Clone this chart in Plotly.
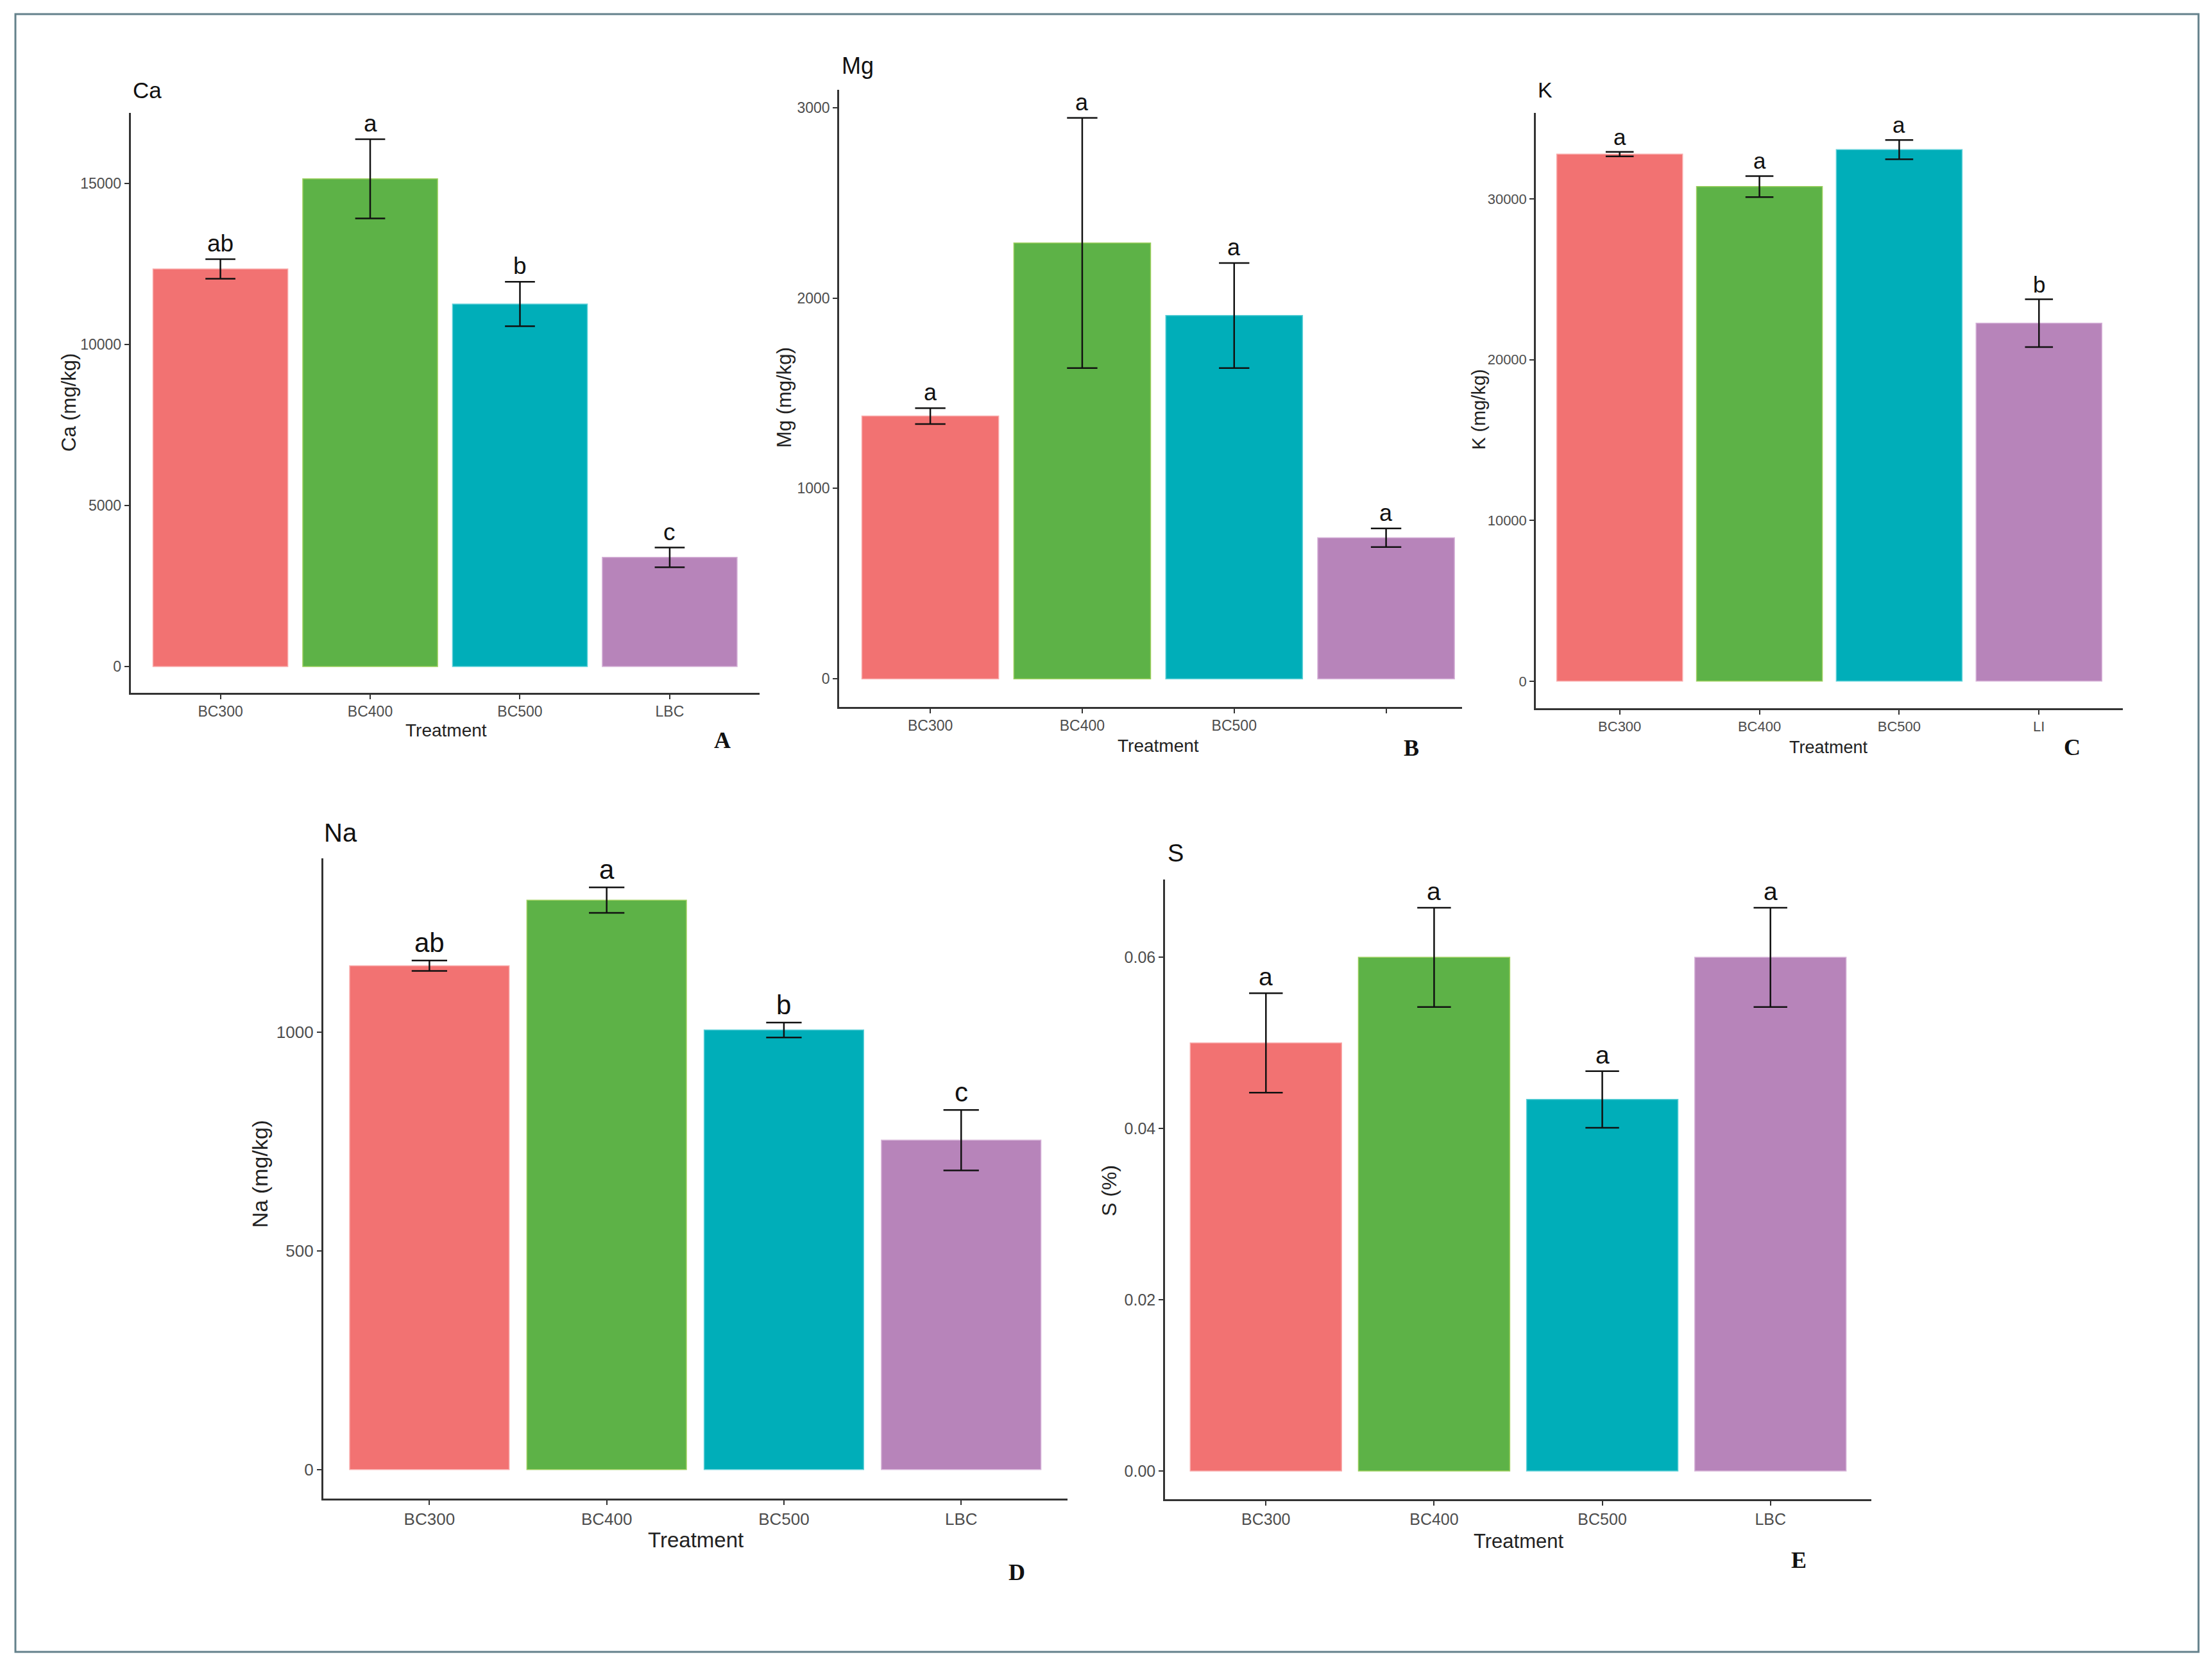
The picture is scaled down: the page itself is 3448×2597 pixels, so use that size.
import plotly.graph_objects as go

W, H = 3448, 2597

# ---------------- data ----------------
categories = ["BC300", "BC400", "BC500", "LBC"]

ca_mean = [12350, 15150, 11260, 3390]
ca_se = [305, 1230, 690, 305]
ca_letters = ["ab", "a", "b", "c"]
ca_ticks = ["BC300", "BC400", "BC500", "LBC"]

mg_mean = [1380, 2289, 1908, 741]
mg_se = [42, 657, 276, 49]
mg_letters = ["a", "a", "a", "a"]
mg_ticks = ["BC300", "BC400", "BC500", ""]

k_mean = [32790, 30770, 33070, 22270]
k_se = [140, 655, 600, 1485]
k_letters = ["a", "a", "a", "b"]
k_ticks = ["BC300", "BC400", "BC500", "LI"]

na_mean = [1152, 1302, 1005, 753]
na_se = [12, 29, 17, 69]
na_letters = ["ab", "a", "b", "c"]
na_ticks = ["BC300", "BC400", "BC500", "LBC"]

s_mean = [0.0500, 0.0600, 0.0434, 0.0600]
s_se = [0.0058, 0.0058, 0.0033, 0.0058]
s_letters = ["a", "a", "a", "a"]
s_ticks = ["BC300", "BC400", "BC500", "LBC"]

bar_colors = ["#F27272", "#5DB247", "#00AEB9", "#B784BA"]
edge_colors = ["#F9AAAA", "#9CCF5E", "#5ED0D8", "#D6B2D8"]

# ---------------- panel geometry (pixels) ----------------
panels = [
    dict(mean=ca_mean, se=ca_se, letters=ca_letters, ticks=ca_ticks, title="Ca",
         ytitle="Ca (mg/kg)", yticks=[0, 5000, 10000, 15000], fmt="d", tag="A",
         xr=(-0.6, 3.6),
         box=(203.5, 1184, 176, 1080), tfs=23, atfs=28, ytfs=31, ttlfs=35, lfs=37,
         title_pos=(205, 140), ytitle_pos=(107, 628), xtitle_pos=(695, 1138), tag_pos=(1126, 1154)),
    dict(mean=mg_mean, se=mg_se, letters=mg_letters, ticks=mg_ticks, title="Mg",
         ytitle="Mg (mg/kg)", yticks=[0, 1000, 2000, 3000], fmt="d", tag="B",
         xr=(-0.6, 3.5),
         box=(1308, 2279, 140, 1102), tfs=23, atfs=28, ytfs=31, ttlfs=36, lfs=36,
         title_pos=(1310, 102), ytitle_pos=(1223, 620), xtitle_pos=(1805, 1163), tag_pos=(2200, 1166)),
    dict(mean=k_mean, se=k_se, letters=k_letters, ticks=k_ticks, title="K",
         ytitle="K (mg/kg)", yticks=[0, 10000, 20000, 30000], fmt="d", tag="C",
         xr=(-0.6, 3.6),
         box=(2394, 3309, 176, 1104), tfs=22, atfs=27, ytfs=29, ttlfs=34, lfs=35,
         title_pos=(2395, 140), ytitle_pos=(2305, 638), xtitle_pos=(2850, 1165), tag_pos=(3230, 1165)),
    dict(mean=na_mean, se=na_se, letters=na_letters, ticks=na_ticks, title="Na",
         ytitle="Na (mg/kg)", yticks=[0, 500, 1000], fmt="d", tag="D",
         xr=(-0.6, 3.6),
         box=(503.6, 1664, 1338, 2336), tfs=26, atfs=33, ytfs=34, ttlfs=40, lfs=42,
         title_pos=(503, 1298), ytitle_pos=(405, 1830), xtitle_pos=(1084, 2400), tag_pos=(1585, 2451)),
    dict(mean=s_mean, se=s_se, letters=s_letters, ticks=s_ticks, title="S",
         ytitle="S (%)", yticks=[0.0, 0.02, 0.04, 0.06], fmt=".2f", tag="E",
         xr=(-0.6, 3.6),
         box=(1816, 2917, 1371, 2337), tfs=25, atfs=31, ytfs=32, ttlfs=38, lfs=39,
         title_pos=(1818, 1330), ytitle_pos=(1729, 1856), xtitle_pos=(2367, 2402), tag_pos=(2804, 2432)),
]

FONT = "Liberation Sans, Arial, sans-serif"
SERIF = "Liberation Serif, Times New Roman, serif"

fig = go.Figure()
annotations = []
layout = dict(
    width=W, height=H, margin=dict(l=0, r=0, t=0, b=0),
    paper_bgcolor="white", plot_bgcolor="white", showlegend=False,
    font=dict(family=FONT, color="#222"),
)

for i, p in enumerate(panels):
    n = i + 1
    xa = "x" if n == 1 else f"x{n}"
    ya = "y" if n == 1 else f"y{n}"
    x0, x1, y0, y1 = p["box"]
    xr = list(p["xr"])
    unit_px = (x1 - x0) / (xr[1] - xr[0])
    cap = 0.1 * unit_px
    xs = list(range(len(categories)))
    tops = [m + s for m, s in zip(p["mean"], p["se"])]
    top = max(tops)
    yr = [-0.05 * top, 1.05 * top]

    fig.add_trace(go.Bar(
        x=xs, y=p["mean"], width=0.9,
        marker=dict(color=bar_colors, line=dict(color=edge_colors, width=1.5)),
        error_y=dict(type="data", array=p["se"], visible=True, color="#111",
                     thickness=2.5, width=cap),
        xaxis=xa, yaxis=ya, hoverinfo="skip",
    ))

    layout["xaxis" if n == 1 else f"xaxis{n}"] = dict(
        domain=[x0 / W, x1 / W], anchor=ya, range=xr,
        tickmode="array", tickvals=xs, ticktext=p["ticks"],
        showline=True, linecolor="#333", linewidth=2.5, mirror=False,
        ticks="outside", ticklen=7, tickwidth=2, tickcolor="#333",
        tickfont=dict(size=p["tfs"], color="#4D4D4D", family=FONT),
        showgrid=False, zeroline=False,
    )
    layout["yaxis" if n == 1 else f"yaxis{n}"] = dict(
        domain=[1 - y1 / H, 1 - y0 / H], anchor=xa, range=yr,
        tickmode="array", tickvals=p["yticks"], tickformat=p["fmt"],
        showline=True, linecolor="#333", linewidth=2.5, mirror=False,
        ticks="outside", ticklen=7, tickwidth=2, tickcolor="#333",
        tickfont=dict(size=p["tfs"], color="#4D4D4D", family=FONT),
        showgrid=False, zeroline=False,
    )

    # significance letters
    for xi, t, lab in zip(xs, tops, p["letters"]):
        annotations.append(dict(
            x=xi, y=t, xref=xa, yref=ya, text=lab, showarrow=False,
            yanchor="bottom", xanchor="center", yshift=2,
            font=dict(size=p["lfs"], color="#111", family=FONT),
        ))

    # panel title
    tx, ty = p["title_pos"]
    annotations.append(dict(x=tx / W, y=1 - ty / H, xref="paper", yref="paper",
                            text=p["title"], showarrow=False, xanchor="left", yanchor="middle",
                            font=dict(size=p["ttlfs"], color="#111", family=FONT)))
    # y title
    yx, yy = p["ytitle_pos"]
    annotations.append(dict(x=yx / W, y=1 - yy / H, xref="paper", yref="paper",
                            text=p["ytitle"], showarrow=False, textangle=-90,
                            xanchor="center", yanchor="middle",
                            font=dict(size=p["ytfs"], color="#222", family=FONT)))
    # x title
    xx, xy = p["xtitle_pos"]
    annotations.append(dict(x=xx / W, y=1 - xy / H, xref="paper", yref="paper",
                            text="Treatment", showarrow=False,
                            xanchor="center", yanchor="middle",
                            font=dict(size=p["atfs"], color="#222", family=FONT)))
    # panel tag
    gx, gy = p["tag_pos"]
    annotations.append(dict(x=gx / W, y=1 - gy / H, xref="paper", yref="paper",
                            text="<b>" + p["tag"] + "</b>", showarrow=False,
                            xanchor="center", yanchor="middle",
                            font=dict(size=36, color="#111", family=SERIF)))

layout["annotations"] = annotations
layout["shapes"] = [dict(type="rect", xref="paper", yref="paper",
                         x0=24 / W, x1=3427 / W, y0=1 - 2575 / H, y1=1 - 22 / H,
                         line=dict(color="#64818B", width=3), fillcolor="rgba(0,0,0,0)")]

fig.update_layout(**layout)
fig.write_html("out.html")
